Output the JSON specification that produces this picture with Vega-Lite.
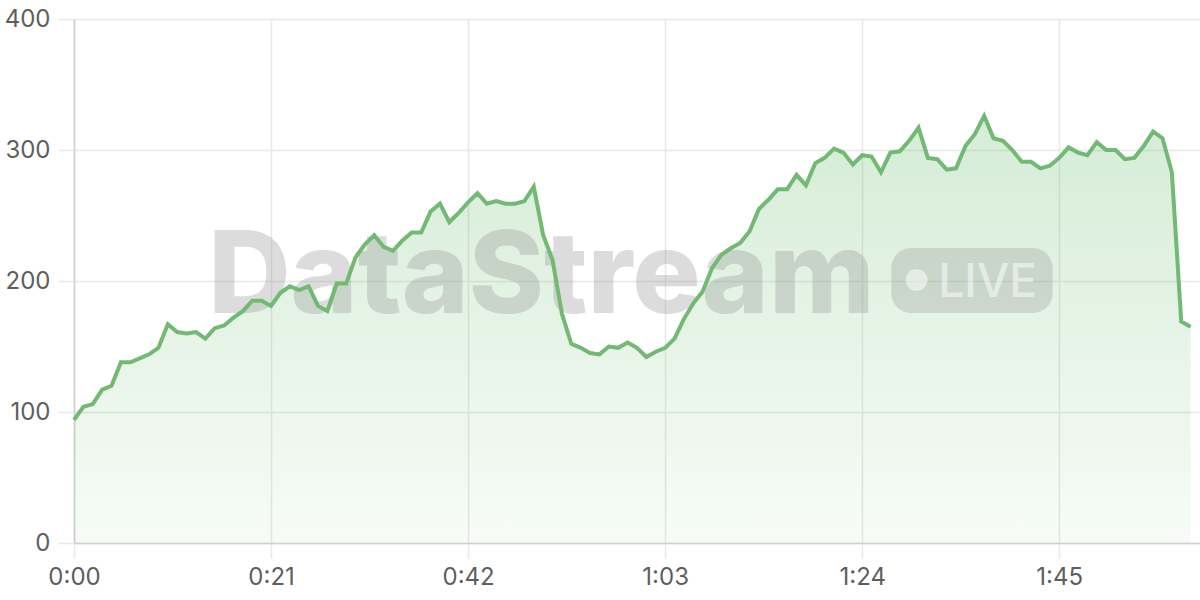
{
  "$schema": "https://vega.github.io/schema/vega-lite/v6.json",
  "autosize": {"type": "none"},
  "width": 1126,
  "height": 524,
  "padding": {"left": 74, "top": 19, "right": 0, "bottom": 57},
  "background": "white",
  "config": {
    "view": {"stroke": null},
    "font": "Inter",
    "axis": {
      "labelFont": "Inter",
      "labelFontSize": 24,
      "labelColor": "#5e5e5e",
      "gridColor": "#e8e8e8",
      "gridWidth": 1.5,
      "tickColor": "#e8e8e8",
      "tickWidth": 1.5,
      "domainColor": "#d0d0d0",
      "domainWidth": 1.5,
      "title": null
    }
  },
  "datasets": {
    "series": [
      {"t": 0, "v": 94}, {"t": 1, "v": 104}, {"t": 2, "v": 106}, {"t": 3, "v": 117}, {"t": 4, "v": 120},
      {"t": 5, "v": 138}, {"t": 6, "v": 138}, {"t": 7, "v": 141}, {"t": 8, "v": 144}, {"t": 9, "v": 149},
      {"t": 10, "v": 167}, {"t": 11, "v": 161}, {"t": 12, "v": 160}, {"t": 13, "v": 161}, {"t": 14, "v": 156},
      {"t": 15, "v": 164}, {"t": 16, "v": 166}, {"t": 17, "v": 172}, {"t": 18, "v": 177}, {"t": 19, "v": 185},
      {"t": 20, "v": 185}, {"t": 21, "v": 181}, {"t": 22, "v": 191}, {"t": 23, "v": 196}, {"t": 24, "v": 193},
      {"t": 25, "v": 196}, {"t": 26, "v": 181}, {"t": 27, "v": 177}, {"t": 28, "v": 198}, {"t": 29, "v": 198},
      {"t": 30, "v": 218}, {"t": 31, "v": 228}, {"t": 32, "v": 235}, {"t": 33, "v": 226}, {"t": 34, "v": 223},
      {"t": 35, "v": 231}, {"t": 36, "v": 237}, {"t": 37, "v": 237}, {"t": 38, "v": 253}, {"t": 39, "v": 259},
      {"t": 40, "v": 245}, {"t": 41, "v": 252}, {"t": 42, "v": 260}, {"t": 43, "v": 267}, {"t": 44, "v": 259},
      {"t": 45, "v": 261}, {"t": 46, "v": 259}, {"t": 47, "v": 259}, {"t": 48, "v": 261}, {"t": 49, "v": 272},
      {"t": 50, "v": 235}, {"t": 51, "v": 216}, {"t": 52, "v": 175}, {"t": 53, "v": 152}, {"t": 54, "v": 149},
      {"t": 55, "v": 145}, {"t": 56, "v": 144}, {"t": 57, "v": 150}, {"t": 58, "v": 149}, {"t": 59, "v": 153},
      {"t": 60, "v": 149}, {"t": 61, "v": 142}, {"t": 62, "v": 146}, {"t": 63, "v": 149}, {"t": 64, "v": 156},
      {"t": 65, "v": 171}, {"t": 66, "v": 183}, {"t": 67, "v": 192}, {"t": 68, "v": 210}, {"t": 69, "v": 220},
      {"t": 70, "v": 225}, {"t": 71, "v": 229}, {"t": 72, "v": 238}, {"t": 73, "v": 255}, {"t": 74, "v": 262},
      {"t": 75, "v": 270}, {"t": 76, "v": 270}, {"t": 77, "v": 281}, {"t": 78, "v": 273}, {"t": 79, "v": 290},
      {"t": 80, "v": 294}, {"t": 81, "v": 301}, {"t": 82, "v": 298}, {"t": 83, "v": 289}, {"t": 84, "v": 296},
      {"t": 85, "v": 295}, {"t": 86, "v": 283}, {"t": 87, "v": 298}, {"t": 88, "v": 299}, {"t": 89, "v": 307},
      {"t": 90, "v": 317}, {"t": 91, "v": 294}, {"t": 92, "v": 293}, {"t": 93, "v": 285}, {"t": 94, "v": 286},
      {"t": 95, "v": 303}, {"t": 96, "v": 312}, {"t": 97, "v": 326}, {"t": 98, "v": 309}, {"t": 99, "v": 307},
      {"t": 100, "v": 300}, {"t": 101, "v": 291}, {"t": 102, "v": 291}, {"t": 103, "v": 286}, {"t": 104, "v": 288},
      {"t": 105, "v": 294}, {"t": 106, "v": 302}, {"t": 107, "v": 298}, {"t": 108, "v": 296}, {"t": 109, "v": 306},
      {"t": 110, "v": 300}, {"t": 111, "v": 300}, {"t": 112, "v": 293}, {"t": 113, "v": 294}, {"t": 114, "v": 303},
      {"t": 115, "v": 314}, {"t": 116, "v": 309}, {"t": 117, "v": 283}, {"t": 118, "v": 169}, {"t": 119, "v": 165}
    ],
    "one": [{"label": "DataStream"}]
  },
  "data": {"name": "series"},
  "layer": [
    {
      "mark": {
        "type": "area",
        "interpolate": "linear",
        "color": {
          "gradient": "linear",
          "x1": 0, "y1": 0, "x2": 0, "y2": 1,
          "stops": [
            {"offset": 0, "color": "rgba(102,187,106,0.28)"},
            {"offset": 1, "color": "rgba(102,187,106,0.05)"}
          ]
        }
      },
      "encoding": {
        "x": {
          "field": "t",
          "type": "quantitative",
          "scale": {"domain": [0, 120], "nice": false, "zero": false},
          "axis": {
            "values": [0, 21, 42, 63, 84, 105],
            "tickSize": 15,
            "labelPadding": 7,
            "labelFlush": false,
            "labelExpr": "floor(datum.value / 60) + ':' + (datum.value % 60 < 10 ? '0' : '') + (datum.value % 60)"
          }
        },
        "y": {
          "field": "v",
          "type": "quantitative",
          "scale": {"domain": [0, 400], "nice": false},
          "axis": {
            "values": [0, 100, 200, 300, 400],
            "tickSize": 16,
            "labelPadding": 8
          }
        }
      }
    },
    {
      "data": {"name": "one"},
      "mark": {"type": "text", "text": "DataStream", "font": "Inter", "fontWeight": 800, "fontSize": 114, "align": "left", "baseline": "alphabetic", "fill": "#969696", "opacity": 0.33},
      "encoding": {
        "x": {"datum": 14.3, "type": "quantitative"},
        "y": {"datum": 175.6, "type": "quantitative"}
      }
    },
    {
      "data": {"name": "one"},
      "mark": {"type": "rect", "cornerRadius": 20, "fill": "#969696", "opacity": 0.3},
      "encoding": {
        "x": {"datum": 87.1, "type": "quantitative"},
        "x2": {"datum": 104.3},
        "y": {"datum": 225.2, "type": "quantitative"},
        "y2": {"datum": 175.6}
      }
    },
    {
      "data": {"name": "one"},
      "mark": {"type": "point", "shape": "circle", "filled": true, "size": 484, "fill": "#ffffff", "opacity": 0.5, "strokeWidth": 0},
      "encoding": {
        "x": {"datum": 89.8, "type": "quantitative"},
        "y": {"datum": 200.8, "type": "quantitative"}
      }
    },
    {
      "data": {"name": "one"},
      "mark": {"type": "text", "text": "LIVE", "font": "Inter", "fontWeight": 500, "fontSize": 46, "align": "left", "baseline": "alphabetic", "fill": "#ffffff", "opacity": 0.5},
      "encoding": {
        "x": {"datum": 92.1, "type": "quantitative"},
        "y": {"datum": 187.8, "type": "quantitative"}
      }
    },
    {
      "mark": {"type": "line", "interpolate": "linear", "color": "#72b973", "strokeWidth": 4},
      "encoding": {
        "x": {"field": "t", "type": "quantitative"},
        "y": {"field": "v", "type": "quantitative"}
      }
    }
  ]
}
